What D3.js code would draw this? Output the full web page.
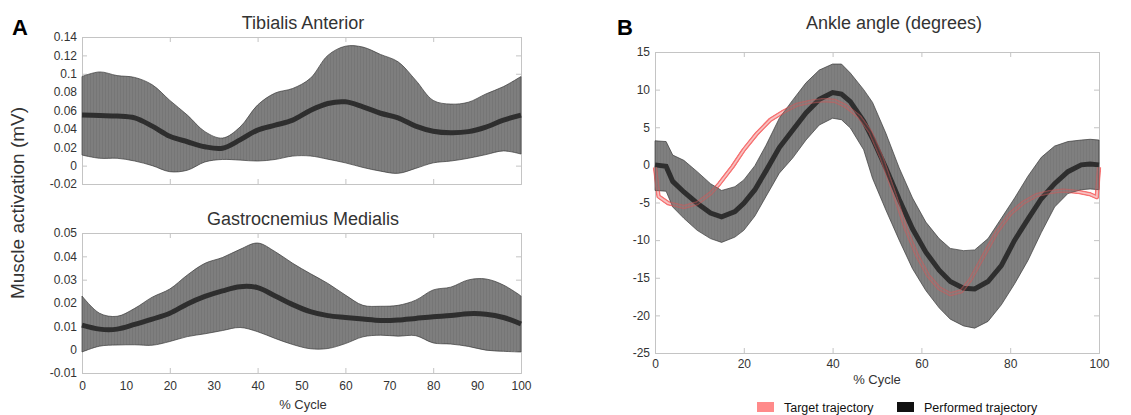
<!DOCTYPE html>
<html>
<head>
<meta charset="utf-8">
<script src="https://cdn.jsdelivr.net/npm/d3@7"></script>
<style>
  body { margin: 0; background: #fff; }
  svg { display: block; font-family: "Liberation Sans", Arial, sans-serif; }
</style>
</head>
<body>
<svg id="chart" width="1131" height="415"></svg>
<script>
// ---- data: panel A, muscle activation (mV) vs % cycle ----
const emgCycle = [0, 4, 8, 12, 16, 20, 24, 28, 32, 36, 40, 44, 48, 52, 56, 60, 64, 68, 72, 76, 80, 84, 88, 92, 96, 100];

const taMean  = [0.055, 0.0545, 0.054, 0.052, 0.043, 0.032, 0.026, 0.0205, 0.019, 0.028, 0.0387, 0.044, 0.0495, 0.060, 0.0676, 0.0694, 0.064, 0.057, 0.052, 0.043, 0.0375, 0.0358, 0.037, 0.042, 0.0495, 0.055];
const taUpper = [0.097, 0.102, 0.098, 0.096, 0.088, 0.071, 0.055, 0.037, 0.030, 0.042, 0.066, 0.079, 0.084, 0.095, 0.120, 0.130, 0.129, 0.121, 0.113, 0.093, 0.071, 0.067, 0.069, 0.078, 0.086, 0.097];
const taLower = [0.0115, 0.008, 0.008, 0.005, 0.000, -0.0066, -0.005, 0.004, 0.0067, 0.006, 0.005, 0.0067, 0.0104, 0.0105, 0.007, 0.003, -0.002, -0.006, -0.0084, -0.003, 0.003, 0.005, 0.008, 0.012, 0.016, 0.0126];

const gmMean  = [0.0105, 0.0088, 0.0088, 0.0108, 0.0131, 0.0156, 0.0196, 0.0228, 0.0252, 0.027, 0.0266, 0.023, 0.0193, 0.0163, 0.0146, 0.0138, 0.0131, 0.0125, 0.0127, 0.0134, 0.0141, 0.0146, 0.0154, 0.0152, 0.0138, 0.011];
const gmUpper = [0.023, 0.0156, 0.0143, 0.0177, 0.0225, 0.026, 0.032, 0.037, 0.0395, 0.043, 0.0457, 0.042, 0.037, 0.0326, 0.0284, 0.0234, 0.019, 0.0186, 0.019, 0.0212, 0.0256, 0.0268, 0.0299, 0.0303, 0.0277, 0.023];
const gmLower = [-0.001, 0.0015, 0.002, 0.0021, 0.0019, 0.0035, 0.0056, 0.0068, 0.0082, 0.0095, 0.0077, 0.0048, 0.0022, 0.0004, 0.0005, 0.0026, 0.0055, 0.0062, 0.0058, 0.006, 0.0029, 0.0024, 0.0014, -0.0002, -0.0007, -0.001];

const taTicks = [-0.02, 0, 0.02, 0.04, 0.06, 0.08, 0.1, 0.12, 0.14];
const gmTicks = [-0.01, 0, 0.01, 0.02, 0.03, 0.04, 0.05];
const cycleLabelsA = [0, 10, 20, 30, 40, 50, 60, 70, 80, 90, 100];
const cycleTicks = [0, 20, 40, 60, 80, 100];

// ---- data: panel B, ankle angle (degrees) ----
const angleCycle = [0, 2.5, 4, 6.5, 9.5, 12.5, 15, 18, 20, 22.5, 25, 28, 31, 34, 37, 40, 42, 44, 47, 49, 52, 55, 58, 61, 64, 66.5, 69.5, 72, 75, 78, 81, 84, 87, 90, 93, 96, 98, 100];
const angleMean  = [0, -0.2, -2.2, -3.6, -5.1, -6.4, -6.9, -6.2, -5.1, -3.3, -0.8, 2.3, 4.6, 6.9, 8.7, 9.6, 9.4, 8.4, 5.8, 3.5, -0.4, -4.6, -8.5, -11.6, -14, -15.5, -16.4, -16.5, -15.5, -13.4, -10, -7.2, -4.5, -2.5, -0.9, 0, 0.1, 0];
const angleUpper = [3.2, 3.1, 1.3, 0.6, -0.9, -2.5, -3.4, -2.9, -2.0, -0.1, 2.6, 6.2, 8.6, 10.9, 12.6, 13.4, 13.4, 12.2, 10, 8.3, 4.2, -0.4, -4.4, -7.6, -9.8, -11.1, -11.4, -11.3, -9.8, -7.1, -4.4, -1.5, 1, 2.5, 3.1, 3.3, 3.4, 3.3];
const angleLower = [-3.4, -3.5, -5.6, -7.1, -8.7, -9.8, -10.3, -9.6, -8.7, -6.8, -4.2, -1.1, 0.9, 3.3, 5.3, 6.2, 6, 4.9, 2, -1.8, -6, -10, -13.8, -16.7, -19, -20.5, -21.4, -21.7, -20.8, -18.6, -15.8, -12.7, -9, -5.6, -3.8, -3.3, -3.2, -3.3];

const targetCycle = [0, 0.8, 3, 6.5, 9.5, 12.5, 14.5, 17.5, 20, 23, 26, 29, 32, 35, 38, 40.5, 43, 46, 48.5, 51, 54, 56.5, 59, 61.5, 64, 66.5, 69, 71, 74, 77, 80, 83, 86, 89, 92, 95.5, 98, 99.5, 100];
const targetAngle = [-0.3, -4.2, -5.1, -5.6, -5.1, -3.8, -2.5, -0.2, 2, 4.2, 6, 7.1, 8, 8.4, 8.6, 8.5, 7.8, 6.4, 4.4, 1, -4, -8.5, -12, -14.7, -16.4, -17.2, -16.8, -15.3, -12.1, -8.9, -6.5, -5, -4, -3.6, -3.4, -3.6, -3.9, -4.3, -0.3];

const angleTicks = [-25, -20, -15, -10, -5, 0, 5, 10, 15];
const cycleLabelsB = [0, 20, 40, 60, 80, 100];
const legendNames = ["Target trajectory", "Performed trajectory"];
const legendColors = ["#ff8a8a", "#111111"];

const svg = d3.select("#chart");
const axisColor = "#c4c4c4";
const textColor = "#333";
const fmt = v => String(+v.toFixed(2));

// hatch patterns for the shaded bands (faint vertical strokes like the original)
const defs = svg.append("defs");
function hatch(id, base, line) {
    const pat = defs.append("pattern")
        .attr("id", id)
        .attr("patternUnits", "userSpaceOnUse")
        .attr("width", 3).attr("height", 10);
    pat.append("rect").attr("width", 3).attr("height", 10).attr("fill", base);
    pat.append("rect").attr("width", 1).attr("height", 10).attr("fill", line);
}
hatch("hatchA", "#7e7e7e", "#767676");
hatch("hatchB", "#6a6a6a", "#636363");

function styleAxis(sel) {
    sel.select(".domain").attr("stroke", axisColor);
    sel.selectAll(".tick line").attr("stroke", axisColor);
    sel.selectAll(".tick text").attr("fill", textColor).attr("font-size", 12)
        .attr("font-family", "Liberation Sans, Arial, sans-serif");
}

function panel(box, yDomain, yTicks, xTicks, xLabels, labelPad) {
    const x = d3.scaleLinear().domain([0, 100]).range([box.left, box.right]);
    const y = d3.scaleLinear().domain(yDomain).range([box.bottom, box.top]);
    const g = svg.append("g");
    const axes = g.append("g");
    const marks = g.append("g");

    axes.append("g").attr("transform", `translate(${box.left},0)`)
        .call(d3.axisLeft(y).tickValues(yTicks).tickSize(-5).tickPadding(5).tickFormat(fmt)).call(styleAxis);
    axes.append("g").attr("transform", `translate(${box.right},0)`)
        .call(d3.axisRight(y).tickValues(yTicks).tickSize(-5).tickFormat("")).call(styleAxis);
    axes.append("g").attr("transform", `translate(0,${box.top})`)
        .call(d3.axisTop(x).tickValues(xTicks).tickSize(-5).tickFormat("")).call(styleAxis);
    axes.append("g").attr("transform", `translate(0,${box.bottom})`)
        .call(d3.axisBottom(x).tickValues(xTicks).tickSize(-5).tickFormat("")).call(styleAxis);
    if (xLabels) {
        axes.append("g").attr("transform", `translate(0,${box.bottom})`)
            .call(d3.axisBottom(x).tickValues(xLabels).tickSize(0).tickPadding(labelPad)).call(styleAxis)
            .select(".domain").remove();
    }
    return { x, y, g: marks };
}

function bandArea(p, xs, lo, hi, curve, fill, opacity) {
    const idx = d3.range(xs.length);
    p.g.append("path")
        .datum(idx)
        .attr("d", d3.area().curve(curve)
            .x(i => p.x(xs[i])).y0(i => p.y(lo[i])).y1(i => p.y(hi[i])))
        .attr("fill", fill)
        .attr("fill-opacity", opacity)
        .attr("stroke", "#3a3a3a")
        .attr("stroke-width", 0.7);
}

function meanLine(p, xs, mean, curve) {
    p.g.append("path")
        .datum(d3.range(xs.length))
        .attr("d", d3.line().curve(curve).x(i => p.x(xs[i])).y(i => p.y(mean[i])))
        .attr("fill", "none")
        .attr("stroke", "#2e2e2e")
        .attr("stroke-width", 5);
}

// ---------- Panel A ----------
const ta = panel({ left: 82, right: 521, top: 37, bottom: 184 }, [-0.02, 0.14], taTicks, cycleTicks, null, 0);
bandArea(ta, emgCycle, taLower, taUpper, d3.curveCatmullRom, "url(#hatchA)", 1);
meanLine(ta, emgCycle, taMean, d3.curveCatmullRom);

const gm = panel({ left: 82, right: 521, top: 233, bottom: 373 }, [-0.01, 0.05], gmTicks, cycleTicks, cycleLabelsA, 8);
bandArea(gm, emgCycle, gmLower, gmUpper, d3.curveCatmullRom, "url(#hatchA)", 1);
meanLine(gm, emgCycle, gmMean, d3.curveCatmullRom);

svg.append("text").attr("x", 12).attr("y", 35).text("A")
    .attr("font-size", 22).attr("font-weight", "bold").attr("fill", "#000");
svg.append("text").attr("x", 303).attr("y", 29).attr("text-anchor", "middle")
    .attr("font-size", 18).attr("fill", textColor).text("Tibialis Anterior");
svg.append("text").attr("x", 303).attr("y", 225).attr("text-anchor", "middle")
    .attr("font-size", 18).attr("fill", textColor).text("Gastrocnemius Medialis");
svg.append("text").attr("transform", "translate(24,203) rotate(-90)").attr("text-anchor", "middle")
    .attr("font-size", 19).attr("fill", textColor).text("Muscle activation (mV)");
svg.append("text").attr("x", 303).attr("y", 409).attr("text-anchor", "middle")
    .attr("font-size", 13).attr("fill", textColor).text("% Cycle");

// ---------- Panel B ----------
const ank = panel({ left: 655, right: 1099, top: 52, bottom: 353 }, [-25, 15], angleTicks, cycleLabelsB, cycleLabelsB, 6);

// target trajectory: pink outline with a lighter core
const tIdx = d3.range(targetCycle.length);
const tLine = d3.line().x(i => ank.x(targetCycle[i])).y(i => ank.y(targetAngle[i]));
const mask = defs.append("mask").attr("id", "tmask").attr("maskUnits", "userSpaceOnUse")
    .attr("x", 0).attr("y", 0).attr("width", 1131).attr("height", 415);
mask.append("path").datum(tIdx).attr("d", tLine).attr("fill", "none")
    .attr("stroke", "#fff").attr("stroke-width", 4.6).attr("stroke-linejoin", "round");
mask.append("path").datum(tIdx).attr("d", tLine).attr("fill", "none")
    .attr("stroke", "#000").attr("stroke-width", 1.6).attr("stroke-linejoin", "round");

function targetPath(edgeOpacity, coreOpacity) {
    ank.g.append("path").datum(tIdx).attr("d", tLine).attr("fill", "none")
        .attr("stroke", "#f66a6a").attr("stroke-opacity", edgeOpacity).attr("stroke-width", 4.6)
        .attr("stroke-linejoin", "round").attr("mask", "url(#tmask)");
    ank.g.append("path").datum(tIdx).attr("d", tLine).attr("fill", "none")
        .attr("stroke", "#f39a9a").attr("stroke-opacity", coreOpacity).attr("stroke-width", 1.6)
        .attr("stroke-linejoin", "round");
}

targetPath(0.9, 0.55);          // bright where it runs over white
bandArea(ank, angleCycle, angleLower, angleUpper, d3.curveLinear, "url(#hatchB)", 0.86);
meanLine(ank, angleCycle, angleMean, d3.curveLinear);
targetPath(0.4, 0.12);          // muted where it crosses the grey band

svg.append("text").attr("x", 617).attr("y", 35).text("B")
    .attr("font-size", 22).attr("font-weight", "bold").attr("fill", "#000");
svg.append("text").attr("x", 894).attr("y", 29).attr("text-anchor", "middle")
    .attr("font-size", 18).attr("fill", textColor).text("Ankle angle (degrees)");
svg.append("text").attr("x", 877).attr("y", 384).attr("text-anchor", "middle")
    .attr("font-size", 13).attr("fill", textColor).text("% Cycle");

// legend
const legX = [757, 897];
const leg = svg.append("g").selectAll("g").data(legendNames).join("g")
    .attr("transform", (d, i) => `translate(${legX[i]},402)`);
leg.append("rect").attr("width", 17).attr("height", 10).attr("fill", (d, i) => legendColors[i]);
leg.append("text").attr("x", 27).attr("y", 10).attr("font-size", 12.5).attr("fill", "#111").text(d => d);
</script>
</body>
</html>
